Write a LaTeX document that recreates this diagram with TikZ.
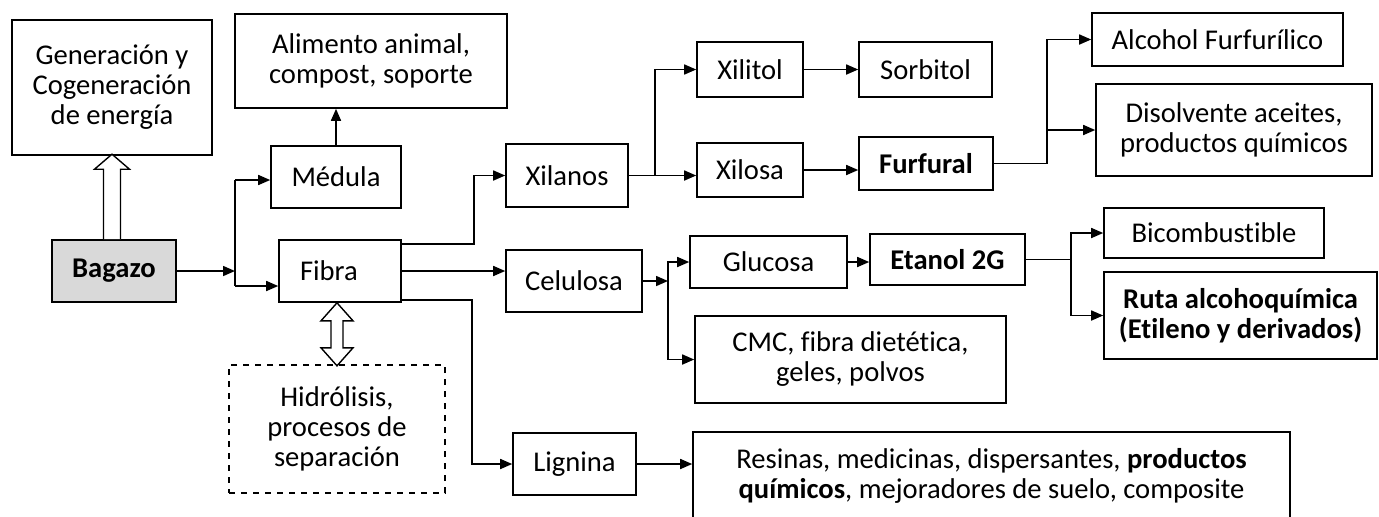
\documentclass[tikz,border=0pt]{standalone}
\usepackage{fontspec}
\setmainfont[Ligatures=NoCommon]{Carlito}
\usepackage{tikz}
\tikzstyle{box node}   = [rectangle,draw,line width=0.8pt,inner sep=0pt,align=center]
\tikzstyle{flow line}  = [line width=0.8pt,-{Triangle[length=6pt,width=5pt]}]
\tikzstyle{plain line} = [line width=0.8pt]
\tikzstyle{open arrow} = [line width=0.7pt,fill=white,line join=miter]
\usetikzlibrary{arrows.meta}

\begin{document}
\begin{tikzpicture}[x=0.5pt,y=-0.5pt,
                    font=\fontsize{14.3}{15}\selectfont
                    ]
\useasboundingbox (0,0) rectangle (1379,516);

    % left column
    \node(gen)[box node, minimum width=100pt, minimum height=67.5pt] at (112,87.5) {Generación y\\Cogeneración\\de energía};
    \node(bagazo)[box node, fill=black!15, minimum width=62pt, minimum height=31pt] at (114,271) {\textbf{Bagazo}};
    \node(alim)[box node, minimum width=136pt, minimum height=47pt] at (371,61) {Alimento animal,\\compost, soporte};
    \node(medula)[box node, minimum width=65pt, minimum height=31pt] at (336,177) {Médula};
    \node(fibra)[box node, minimum width=61pt, minimum height=31pt, text width=40pt, align=left] at (340,271) {Fibra};
    \node(hidro)[box node, dashed, line width=0.6pt, minimum width=108pt, minimum height=64pt] at (337,429) {Hidrólisis,\\procesos de\\separación};

    % fractions
    \node(xilanos)[box node, minimum width=61pt, minimum height=31.5pt] at (567,175.5) {Xilanos};
    \node(celulosa)[box node, minimum width=68pt, minimum height=31pt] at (574,281) {Celulosa};
    \node(lignina)[box node, minimum width=61.5pt, minimum height=31pt] at (574.5,464) {Lignina};

    % products
    \node(xilitol)[box node, minimum width=53pt, minimum height=27.5pt] at (750,69.5) {Xilitol};
    \node(xilosa)[box node, minimum width=53pt, minimum height=27pt] at (750,170) {Xilosa};
    \node(sorbitol)[box node, minimum width=66.5pt, minimum height=27.5pt] at (925.5,69.5) {Sorbitol};
    \node(furfural)[box node, minimum width=67pt, minimum height=26.5pt] at (926,163.5) {\textbf{Furfural}};
    \node(glucosa)[box node, minimum width=78.5pt, minimum height=26pt] at (768.5,262) {Glucosa};
    \node(etanol)[box node, minimum width=77.5pt, minimum height=25.5pt] at (947.5,259.5) {\textbf{Etanol 2G}};
    \node(cmc)[box node, minimum width=155.5pt, minimum height=43.5pt] at (850.5,359.5) {CMC, fibra dietética,\\geles, polvos};
    \node(resinas)[box node, minimum width=298.5pt, minimum height=44pt] at (991.5,476) {Resinas, medicinas, dispersantes, \textbf{productos}\\\textbf{químicos}, mejoradores de suelo, composite};
    \node(alcohol)[box node, minimum width=125.5pt, minimum height=26.5pt] at (1217.5,39.5) {Alcohol Furfurílico};
    \node(disolv)[box node, minimum width=138pt, minimum height=46pt] at (1234,130) {Disolvente aceites,\\productos químicos};
    \node(bicomb)[box node, minimum width=110pt, minimum height=25pt] at (1214,233) {Bicombustible};
    \node(ruta)[box node, minimum width=136.5pt, minimum height=43.5pt] at (1240.5,315.5) {\textbf{Ruta alcohoquímica}\\\textbf{(Etileno y derivados)}};

    % branch points
    \coordinate(jb) at (235,271);
    \coordinate(jm) at (235,180);
    \coordinate(jf) at (235,286);
    \coordinate(jx) at (655,175.5);
    \coordinate(jc) at (668,281);
    \coordinate(ju) at (1047,163.5);
    \coordinate(je) at (1071,259.5);
    \coordinate(ga) at (gen.south |- bagazo.north);
    \coordinate(ha) at (hidro.north |- fibra.south);

    % hollow arrows
    \draw[open arrow] ([xshift=-4.25pt]ga) -- ++(0,-70) -- ++(-9,0) -- ++(17.5,-15)
        -- ++(17.5,15) -- ++(-9,0) -- ++(0,70);
    \draw[open arrow] (ha) -- ++(16,18) -- ++(-10,0) -- ++(0,27) -- ++(10,0) -- ++(-16,18)
        -- ++(-16,-18) -- ++(10,0) -- ++(0,-27) -- ++(-10,0) -- cycle;

    % Bagazo to Medula and Fibra
    \draw[flow line] (bagazo.east) -- (jb);
    \draw[plain line] (jm) -- (jf);
    \draw[flow line] (jm) -- (jm -| medula.west);
    \draw[flow line] (jf) -- (jf -| fibra.west);
    \draw[flow line] (medula.north) -- (medula.north |- alim.south);

    % Fibra to fractions
    \draw[flow line] ([yshift=13.5pt]fibra.east) -- ++(72,0) |- (xilanos.west);
    \draw[flow line] (fibra.east) -- (fibra.east -| celulosa.west);
    \draw[flow line] ([yshift=-14.5pt]fibra.east) -- ++(70,0) |- (lignina.west);

    % Xilanos
    \draw[plain line] (xilanos.east) -- (jx);
    \draw[flow line] (jx) |- (xilitol.west);
    \draw[flow line] (jx) -- (jx -| xilosa.west);
    \draw[flow line] (xilitol.east) -- (sorbitol.west);
    \draw[flow line] (xilosa.east) -- (xilosa.east -| furfural.west);
    \draw[plain line] (furfural.east) -- (ju);
    \draw[flow line] (ju) |- (alcohol.west);
    \draw[flow line] (ju |- disolv.west) -- (disolv.west);

    % Celulosa
    \draw[flow line] (celulosa.east) -- (jc);
    \draw[flow line] (jc) |- (glucosa.west);
    \draw[flow line] (jc) |- (cmc.west);
    \draw[flow line] (glucosa.east) -- (glucosa.east -| etanol.west);
    \draw[plain line] (etanol.east) -- (je);
    \draw[flow line] (je) |- (bicomb.west);
    \draw[flow line] (je) |- (ruta.west);

    % Lignina
    \draw[flow line] (lignina.east) -- (lignina.east -| resinas.west);

\end{tikzpicture}
\end{document}
